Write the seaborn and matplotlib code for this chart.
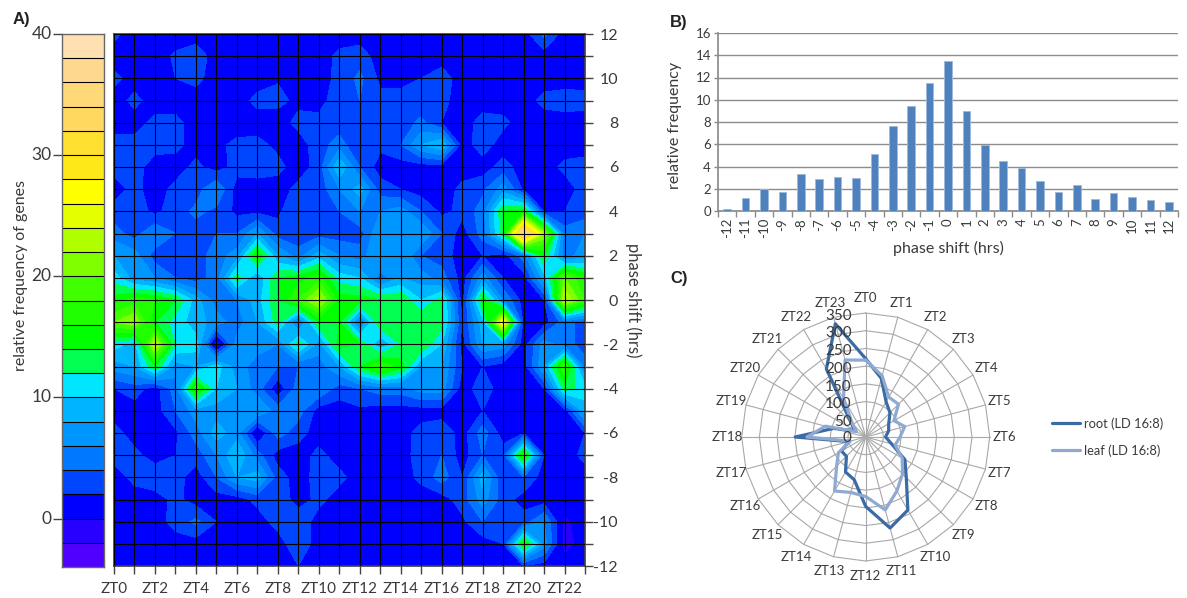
import numpy as np
import pandas as pd
import matplotlib
matplotlib.use('Agg')
import matplotlib.pyplot as plt
from matplotlib.colors import ListedColormap
import seaborn as sns

# panel A, one row per phase shift, from +12 down to -12, columns ZT0..ZT23
phase_shifts = list(range(12, -13, -1))
zt_hours = list(range(24))
genes_by_shift = [
    [2.5, 1, 1, 1, 1, 1, 1, 1, 1, 1, 1, 1, 1, 1, 1, 1, 1, 1, 1, 1, 1, 4.5, 1, 1.5],
    [1, 1, 1, 2.3, 3.2, 1, 1, 1, 1, 1, 1, 2.5, 3, 1, 1, 1, 1, 1, 1, 1, 1, 1, 1, 1],
    [2.6, 1, 1, 2, 2.6, 1, 1, 1, 1.8, 1, 1, 2.6, 4.5, 1.5, 1.5, 2, 3, 1, 1, 1, 1, 1, 1, 1],
    [1, 2.6, 1, 1, 1, 1, 1, 2.6, 2.6, 1.5, 1, 3.5, 4, 2.6, 2.6, 2.6, 2.6, 1, 1, 1, 1, 2.6, 3, 2.8],
    [1, 1, 2.6, 2.6, 1, 1, 1, 1, 1, 2.6, 2.8, 2.8, 2, 2.8, 2.8, 4.5, 2, 1, 2.8, 2.5, 1, 1, 1, 1],
    [2.8, 2.8, 2.8, 2.6, 1, 1.5, 2.5, 2.6, 1.5, 1, 3, 5, 2, 2.5, 4, 8, 10, 1, 3, 1, 1, 1, 1, 1],
    [2.8, 2.8, 1, 1, 2.6, 1, 2.8, 3, 2.6, 1, 2.8, 10, 4, 1, 1, 1, 1, 1, 1, 2.8, 1, 1, 2.5, 2.8],
    [1, 2.6, 1, 2.6, 3, 6, 1, 1, 1, 2.6, 2.8, 6, 9, 3, 2, 1, 1, 2.5, 3.5, 7, 1.5, 1, 1, 2.8],
    [2.8, 3, 1.5, 3, 4.5, 3.5, 1.5, 1.5, 1.5, 4, 2.5, 4, 6, 6, 7, 4, 1.5, 2.5, 5, 14, 15, 2, 2, 2.8],
    [5, 3, 6, 4, 3, 4, 4, 8, 3, 2.5, 3, 3, 3, 8, 6, 8, 4, 1, 5, 13, 38, 22, 5, 6],
    [8, 7, 3, 3, 3, 5, 7, 16, 8, 5, 9, 6, 5, 8, 8, 4, 3, 1, 2, 1, 5, 14, 5, 7],
    [11, 7, 6, 4, 3, 5, 13, 8, 14, 15, 17, 11, 10, 5, 8, 7, 5, 1, 7, 2, 1, 9, 20, 16],
    [15, 17, 16, 14, 9, 5, 6, 9, 14, 18, 23, 15, 15, 14, 14, 10, 13, 1, 15, 6, 1, 2, 24, 18],
    [20, 22, 14, 11, 9, 7, 5, 8, 13, 5, 14, 14, 5, 14, 13, 14, 13, 2, 9, 28, 1, 1, 5, 3],
    [11, 9, 24, 12, 11, -2, 7, 7, 6, 13, 7, 15, 14, 8, 12, 14, 10, 1, 8, 7, 1, 7, 5, 3],
    [7, 8, 14, 7, 8, 11, 7, 5, 4, 4, 5, 8, 14, 18, 15, 8, 8, 2, 2, 1, 1, 8, 18, 5],
    [2, 3, 1, 5, 17, 10, 8, 5, 0.5, 5, 6, 3, 4, 5, 5, 7, 7, 1, 3, 1, 1, 2, 13, 11],
    [1, 1, 1, 4, 7, 7, 7, 8, 5, 5, 1, 1, 1.5, 1, 1, 1, 1, 1, 2, 1, 1, 1, 1, 9],
    [2.8, 1, 1, 1.5, 5, 9, 7, -0.5, 5, 2.8, 1, 1, 1, 1, 1, 2.8, 3.5, 1, 5, 1, 2, 1, 1, 2],
    [2.8, 2.6, 1, 2, 2.8, 6, 10, 5, 1, 1, 2.6, 1, 1, 1, 1, 3, 4, 1, 4, 3, 17, 2, 1, 2.6],
    [1, 2.6, 3.5, 2.8, 1, 4, 8, 9, 3, 1, 2.8, 2.6, 1, 1, 1, 2.5, 5, 2, 9, 2, 4, 1, 1, 1],
    [1, 1, 1, 2.6, 1, 1, 1, 2.6, 3.5, 1, 2.6, 1, 1, 1, 1, 1, 1, 3, 7, 3, 1, 1, 1, 1],
    [1, 1, 1, 2.8, 4.5, 2, 1, 1, 2.8, 3.5, 1, 1, 2, 1, 1, 1, 1, 1.5, 4, 3, 3, 6, -0.5, 1],
    [1, 1, 1, 1, 1, 1, 1, 1, 1, 3.5, 1, 1, 1, 1, 1, 1, 1, 1, 1, 2, 16, 7, -1, 1],
    [1, 1, 1, 1, 1, 1, 1, 1, 1, 2, 1, 1, 1, 1, 1, 1, 1, 1, 1, 1, 2, 1, 1, 1],
]

# colour bands of the key, from -4 up to 40
band_levels = list(range(-4, 41, 2))
band_colors = ['#5000ff', '#2800ff', '#0000ff', '#0046ff', '#0078ff', '#0096ff', '#00b4ff',
               '#00e6ff', '#00ff50', '#00ff00', '#20ff00', '#40ff00', '#80ff00', '#b0ff00',
               '#e4ff00', '#ffff00', '#ffe818', '#ffe030', '#ffd860', '#ffd878', '#ffd890', '#ffe0b0']

# panel B
shift_labels = ['-12', '-11', '-10', '-9', '-8', '-7', '-6', '-5', '-4', '-3', '-2', '-1', '0',
                '1', '2', '3', '4', '5', '6', '7', '8', '9', '10', '11', '12']
shift_freq = [0.2, 1.15, 2, 1.75, 3.3, 2.9, 3.1, 3, 5.1, 7.65, 9.4, 11.55, 13.45,
              9, 5.9, 4.45, 3.85, 2.7, 1.75, 2.3, 1.05, 1.65, 1.25, 0.95, 0.85]

# panel C, ZT0..ZT23
root_counts = [221, 171, 115, 97, 75, 67, 56, 76, 128, 162, 238, 266,
               196, 125, 114, 77, 79, 50, 199, 94, 35, 60, 222, 331]
leaf_counts = [217, 179, 130, 131, 92, 114, 97, 86, 119, 147, 176, 213,
               168, 162, 176, 116, 89, 45, 166, 118, 30, 53, 125, 225]
radial_ticks = [0, 50, 100, 150, 200, 250, 300, 350]

W, H = 1187, 598
TEXT = '#3a3a3a'


def px_axes(fig, left, top, right, bottom, **kw):
    return fig.add_axes([left / W, 1 - bottom / H, (right - left) / W, (bottom - top) / H], **kw)


sns.set_theme(style='white')
plt.rcParams['font.family'] = ['Lato', 'DejaVu Sans']
plt.rcParams['text.color'] = TEXT
plt.rcParams['axes.labelcolor'] = TEXT
plt.rcParams['xtick.color'] = TEXT
plt.rcParams['ytick.color'] = TEXT

fig = plt.figure(figsize=(W / 100, H / 100), dpi=100)

# key of panel A
ax_key = px_axes(fig, 62, 34, 104, 567)
key_values = np.array([(a + b) / 2 for a, b in zip(band_levels[:-1], band_levels[1:])])[::-1]
sns.heatmap(key_values.reshape(-1, 1), ax=ax_key, cmap=ListedColormap(band_colors),
            vmin=-4, vmax=40, cbar=False, linewidths=0.0)
ax_key.hlines(range(1, len(key_values)), 0, 1, color='black', lw=0.8)
ax_key.set_xticks([])
ax_key.set_yticks([0, 5, 10, 15, 20], labels=['40', '30', '20', '10', '0'], rotation=0, fontsize=12.5)
ax_key.tick_params(axis='y', left=True, length=6.5, width=1, color='#444444', pad=1)
for s in ax_key.spines.values():
    s.set_visible(True)
    s.set_color('#666666')
    s.set_linewidth(1)
ax_key.set_ylabel('relative frequency of genes', fontsize=11.5, labelpad=0)
ax_key.yaxis.set_label_coords(-0.8, 0.546)

# contour map
ax_map = px_axes(fig, 114, 34, 585, 566)
ax_map.contourf(zt_hours, phase_shifts, np.array(genes_by_shift), levels=band_levels, colors=band_colors)
ax_map.set_xlim(0, 23)
ax_map.set_ylim(-12, 12)
ax_map.set_xticks(zt_hours, labels=[f'ZT{h}' if h % 2 == 0 else '' for h in zt_hours], fontsize=11)
ax_map.set_yticks(phase_shifts, labels=[str(p) if p % 2 == 0 else '' for p in phase_shifts], fontsize=11.5)
ax_map.yaxis.tick_right()
ax_map.tick_params(axis='x', length=5.8, width=1, color='#444444', pad=6, bottom=True)
ax_map.tick_params(axis='y', length=5.8, width=1, color='#444444', pad=18, right=True)
for lab in ax_map.get_yticklabels():
    lab.set_ha('right')
ax_map.grid(True, color='black', lw=0.8)
ax_map.set_axisbelow(False)
for s in ax_map.spines.values():
    s.set_color('#444444')
ax_map.yaxis.set_label_position('right')
ax_map.set_ylabel('phase shift (hrs)', rotation=270, fontsize=12, labelpad=0)
ax_map.yaxis.set_label_coords(1.12, 0.5)

# panel B
ax_bar = px_axes(fig, 718, 33, 1178, 211)
df_bar = pd.DataFrame({'shift': shift_labels, 'freq': shift_freq})
sns.barplot(data=df_bar, x='shift', y='freq', order=shift_labels, color='#4f81bd', saturation=1,
            width=0.42, edgecolor='#9db9dc', linewidth=0.6, ax=ax_bar, zorder=3)
ax_bar.set_xlim(-0.5, 24.5)
ax_bar.set_ylim(0, 16)
ax_bar.set_yticks(range(0, 17, 2))
ax_bar.grid(True, axis='y', color='#8c8c8c', lw=1)
ax_bar.set_axisbelow(True)
ax_bar.set_xticks(np.arange(-0.5, 25), minor=True)
ax_bar.tick_params(axis='x', which='major', length=0, rotation=90, labelsize=9.5, pad=5)
ax_bar.tick_params(axis='x', which='minor', bottom=True, length=4, width=1, color='#8c8c8c')
ax_bar.tick_params(axis='y', left=True, length=3, width=1, color='#8c8c8c', labelsize=9.5, pad=2)
sns.despine(ax=ax_bar)
ax_bar.spines['left'].set_color('#8c8c8c')
ax_bar.spines['bottom'].set_color('#8c8c8c')
ax_bar.set_xlabel('phase shift (hrs)', fontsize=11.5, labelpad=2)
ax_bar.set_ylabel('relative frequency', fontsize=11.5)
ax_bar.yaxis.set_label_coords(-0.078, 0.483)

# panel C, rings are drawn by hand so that they stay polygons as in the spreadsheet chart
ax_rad = px_axes(fig, 741.7, 313, 989.7, 561, projection='polar')
ax_rad.set_theta_zero_location('N')
ax_rad.set_theta_direction(-1)
ax_rad.set_ylim(0, 350)
ax_rad.grid(False)
ax_rad.set_xticks([])
ax_rad.set_yticks([])
ax_rad.spines['polar'].set_visible(False)
ax_rad.patch.set_alpha(0)

theta = np.deg2rad(np.array(zt_hours) * 15.0)
theta_closed = np.append(theta, theta[0])
for r in radial_ticks[1:]:
    ax_rad.plot(theta_closed, [r] * len(theta_closed), color='#a8a8a8', lw=0.8, zorder=1, clip_on=False)
    ax_rad.annotate(str(r), (0, r), xytext=(-10, -2), textcoords='offset points', ha='right',
                    va='center', fontsize=11, zorder=6, annotation_clip=False)
ax_rad.annotate('0', (0, 0), xytext=(-10, -1), textcoords='offset points', ha='right', va='center',
                fontsize=11, zorder=6)
for t, h in zip(theta, zt_hours):
    ax_rad.plot([t, t], [0, 350], color='#a8a8a8', lw=0.8, zorder=1, clip_on=False)
    ax_rad.text(t, 392, f'ZT{h}', ha='center', va='center', fontsize=9.5, clip_on=False)

df_rad = pd.DataFrame({
    'theta': np.concatenate([theta_closed, theta_closed]),
    'count': root_counts + root_counts[:1] + leaf_counts + leaf_counts[:1],
    'tissue': ['root (LD 16:8)'] * 25 + ['leaf (LD 16:8)'] * 25,
})
sns.lineplot(data=df_rad, x='theta', y='count', hue='tissue', sort=False, estimator=None,
             palette=['#3a6ba5', '#8fa9d2'], lw=2.3, ax=ax_rad, zorder=4)
ax_rad.set_xlabel('')
ax_rad.set_ylabel('')
ax_rad.set_ylim(0, 350)
handles, labels = ax_rad.get_legend_handles_labels()
ax_rad.legend(handles, labels, loc='center left', bbox_to_anchor=(1049 / W, 1 - 437 / H),
              bbox_transform=fig.transFigure, frameon=False, fontsize=9.3, handlelength=2.2,
              handletextpad=0.3, labelspacing=1.1, borderpad=0, borderaxespad=0.2)

bold_font = ['Liberation Sans', 'DejaVu Sans']
fig.text(13 / W, 1 - 24 / H, 'A)', fontsize=12, fontweight='bold', color='#222222', family=bold_font)
fig.text(670 / W, 1 - 27 / H, 'B)', fontsize=12, fontweight='bold', color='#222222', family=bold_font)
fig.text(670 / W, 1 - 283 / H, 'C)', fontsize=12, fontweight='bold', color='#222222', family=bold_font)

fig.savefig('out.png', dpi=100)
